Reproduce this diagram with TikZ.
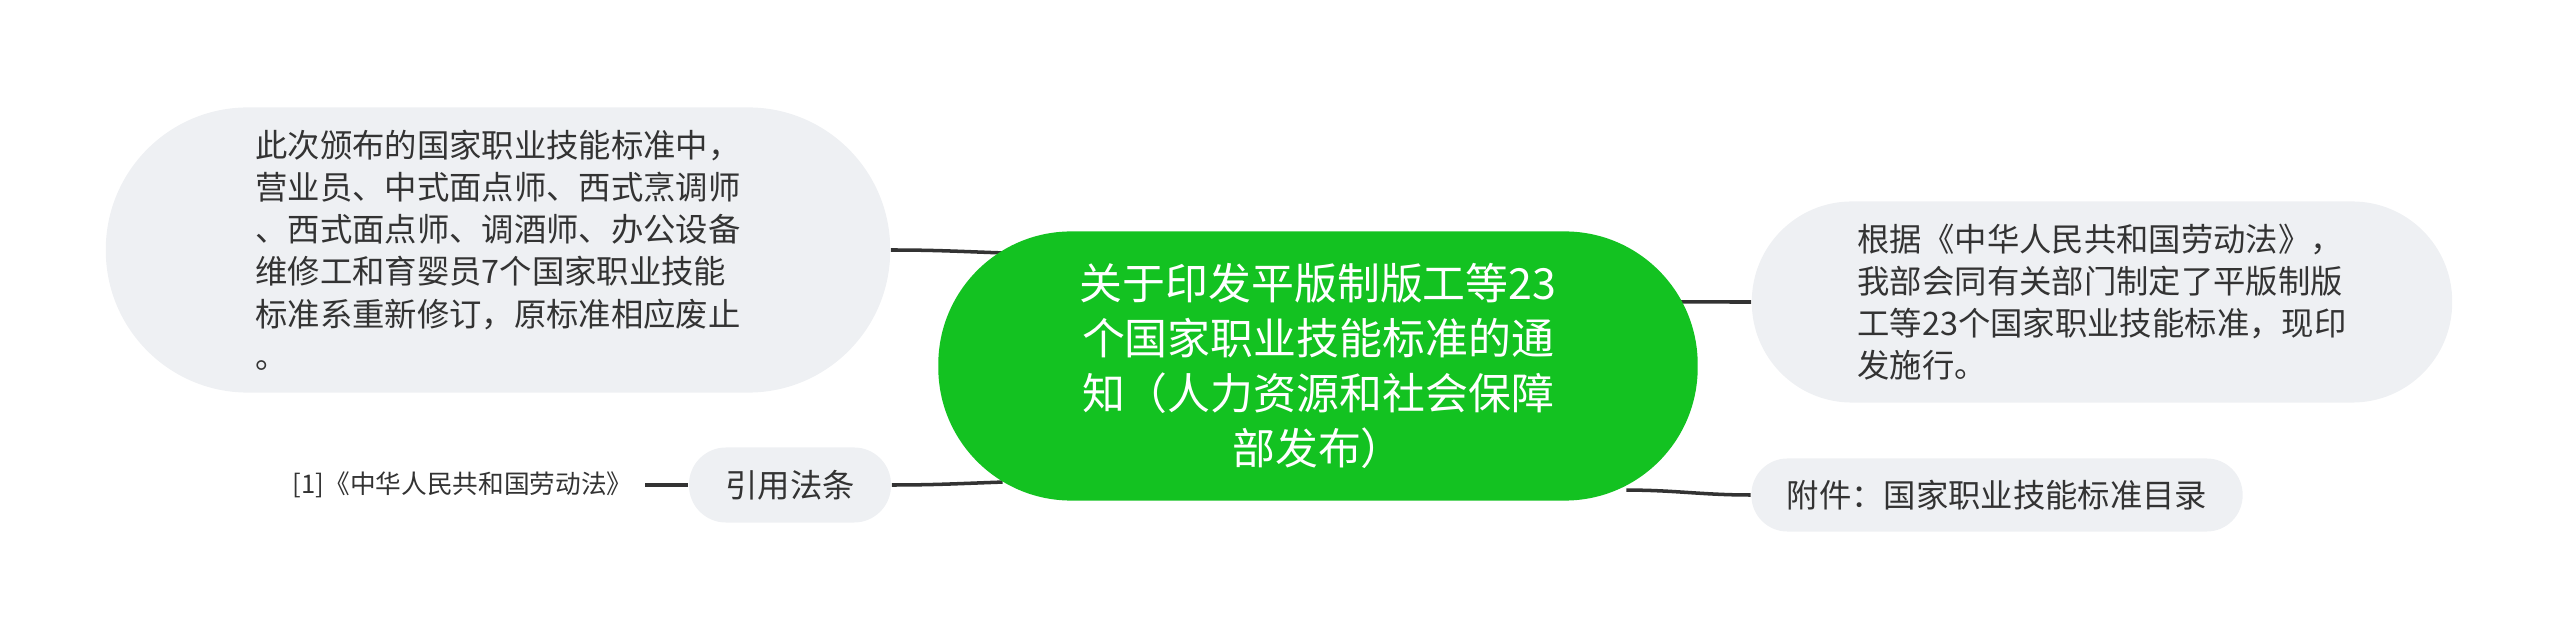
\documentclass[tikz,border=0pt]{standalone}
\usepackage{fontspec}
\setmainfont{Noto Sans CJK SC}
\usepackage{xcolor}
\usetikzlibrary{calc}
\pgfdeclarelayer{bg}
\pgfsetlayers{bg,main}
\definecolor{topicgreen}{RGB}{19,194,33}
\definecolor{bubblegray}{RGB}{238,240,243}
\definecolor{inkgray}{RGB}{51,51,51}
\tikzset{
  topic/.style={
    fill=topicgreen,
    text=white,
    rounded corners=1.33cm,
    minimum width=7.59cm,
    minimum height=2.69cm,
    align=center,
    font=\fontsize{12.2}{15.6}\selectfont},
  bubble/.style={
    fill=bubblegray,
    text=inkgray,
    align=left,
    font=\fontsize{9.2}{12}\selectfont},
  link/.style={
    draw=inkgray,
    line width=1pt}
  }

\begin{document}
\begin{tikzpicture}[x=0.01cm,y=-0.01cm]
		\useasboundingbox (0,0) rectangle (2560,640);
		\node [topic] (topic) at (1318,366) {关于印发平版制版工等23\\个国家职业技能标准的通\\知（人力资源和社会保障\\部发布）};
		\node [bubble, minimum width=7.84cm, minimum height=2.85cm, rounded corners=1.42cm] (revised) at (498,250) {此次颁布的国家职业技能标准中，\\营业员、中式面点师、西式烹调师\\、西式面点师、调酒师、办公设备\\维修工和育婴员7个国家职业技能\\标准系重新修订，原标准相应废止\\。};
		\node [bubble, minimum width=2.02cm, minimum height=0.75cm, rounded corners=0.37cm] (cite) at (790,485) {引用法条};
		\node [text=inkgray, font=\fontsize{7.3}{9}\selectfont, anchor=east] (law) at (645,485) {[1]《中华人民共和国劳动法》};
		\node [bubble, minimum width=7.0cm, minimum height=2.01cm, rounded corners=1.0cm] (basis) at (2102,302) {根据《中华人民共和国劳动法》，\\我部会同有关部门制定了平版制版\\工等23个国家职业技能标准，现印\\发施行。};
		\node [bubble, minimum width=4.91cm, minimum height=0.73cm, rounded corners=0.36cm] (annex) at (1997,495) {附件：国家职业技能标准目录};
		\begin{pgfonlayer}{bg}
		\draw [link] (revised.east) to [out=0,in=178] ($(topic.west)+(0.65cm,1.13cm)$);
		\draw [link] (cite.east) to [out=0,in=182] ($(topic.west)+(0.65cm,-1.16cm)$);
		\draw [link] ($(topic.east)+(-0.37cm,0.64cm)$) to [out=0,in=180] (basis.west);
		\draw [link] ($(topic.east)+(-0.72cm,-1.24cm)$) to [out=0,in=180] (annex.west);
		\end{pgfonlayer}
		\draw [link] (law.east) to (cite.west);
	\end{tikzpicture}
\end{document}
